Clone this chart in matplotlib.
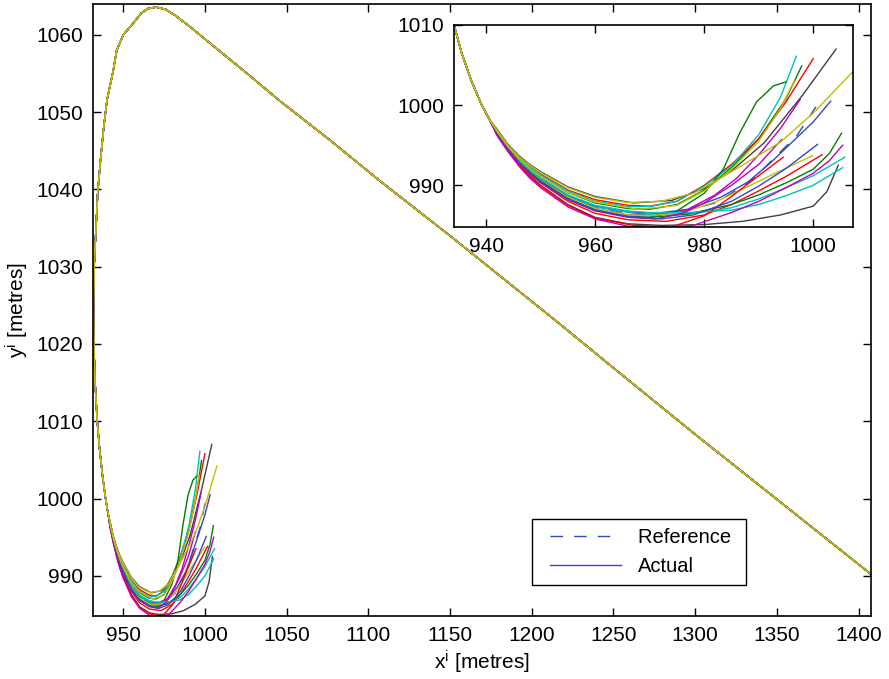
import matplotlib
matplotlib.use('Agg')
import matplotlib.pyplot as plt
from matplotlib.lines import Line2D
from matplotlib.legend_handler import HandlerLine2D

plt.rcParams['font.family'] = ['Liberation Sans', 'DejaVu Sans']
plt.rcParams['mathtext.fontset'] = 'custom'
plt.rcParams['mathtext.rm'] = 'Liberation Sans'
plt.rcParams['mathtext.it'] = 'Liberation Sans:italic'

# shared part of every path: start at the right, over the peak, down the left side
lead_x = [1407, 1350, 1300, 1250, 1216.5, 1150, 1106.5, 1077, 1045, 1027, 1005, 990,
          982, 976, 970, 965, 961, 956.1, 950, 946, 944, 940.1, 938.1, 936.1, 934.4,
          932.2, 931.8, 932.0, 932.8, 934.1, 935.5, 937.3, 939.2, 940.6]
lead_y = [990.3, 999.9, 1008.3, 1016.9, 1022.7, 1034.0, 1041.2, 1046.3, 1051.6, 1054.8,
          1058.6, 1061.2, 1062.5, 1063.3, 1063.6, 1063.4, 1062.8, 1061.5, 1060.0, 1058.0,
          1055.5, 1051.6, 1048.1, 1043.8, 1039.6, 1030.0, 1025.0, 1020.0, 1015.0, 1010.0,
          1006.5, 1003.0, 1000.0, 998.2]

# reference path end
ref_x = [942, 944, 946, 948, 950, 955, 960, 966, 970, 976, 982, 985, 989, 993, 997, 1000.5]
ref_y = [996.6, 994.7, 993.1, 991.8, 990.8, 988.7, 987.3, 986.5, 986.4, 986.7, 987.8,
         989.0, 990.8, 993.5, 996.2, 999.8]

# actual path ends
tails = [
    ([942, 944, 946, 948, 950, 955, 960, 966, 970, 975, 980, 985, 990, 995, 997.9],
     [996.7, 994.8, 993.3, 992.1, 991.1, 989.1, 987.8, 987.1, 987.0, 987.6, 989.4, 992.2, 995.8, 1000.8, 1004.9]),
    ([942, 944, 946, 948, 950, 955, 960, 966, 970, 975, 980, 985, 990, 995, 1000],
     [996.8, 994.9, 993.5, 992.3, 991.4, 989.4, 988.2, 987.5, 987.4, 988.0, 990.0, 992.6, 995.8, 1000.4, 1005.8]),
    ([942, 944, 946, 948, 950, 955, 960, 966, 970, 975, 980, 985, 990, 994, 996.9],
     [996.8, 994.9, 993.5, 992.3, 991.3, 989.3, 988.0, 987.35, 987.35, 988.0, 989.9, 992.4, 996.3, 1001.0, 1006.1]),
    ([942, 944, 946, 948, 950, 955, 960, 967, 974, 980, 985, 991, 998, 1004.2],
     [997.0, 995.1, 993.7, 992.6, 991.7, 989.8, 988.6, 987.8, 988.1, 989.6, 991.8, 995.3, 1001.2, 1007.0]),
    ([942, 944, 946, 948, 950, 955, 960, 966, 971, 977, 983, 988, 992, 996, 1000, 1003.2],
     [996.6, 994.7, 993.1, 991.8, 990.8, 988.7, 987.4, 986.7, 986.5, 987.0, 988.5, 990.4, 992.7, 995.3, 997.9, 1000.5]),
    ([942, 944, 946, 948, 950, 955, 960, 966, 970, 975, 980, 983.5, 986.5, 989.6, 992.7, 995],
     [996.5, 994.6, 992.9, 991.6, 990.6, 988.4, 986.9, 986.1, 986.0, 986.8, 989.0, 992.0, 996.5, 1000.4, 1002.4, 1002.9]),
    ([942, 944, 946, 948, 950, 955, 960, 966, 973, 980, 985, 990, 995, 1001.6],
     [996.4, 994.5, 992.8, 991.4, 990.3, 988.0, 986.5, 985.7, 985.5, 986.3, 987.6, 989.3, 991.1, 993.8]),
    ([942, 944, 946, 948, 950, 955, 960, 968, 975, 980, 985, 990, 995, 1000, 1005.8],
     [996.6, 994.7, 993.0, 991.7, 990.7, 988.6, 987.3, 986.4, 986.4, 986.7, 987.2, 988.3, 989.7, 991.2, 993.5]),
    ([942, 944, 946, 948, 950, 955, 960, 966, 971, 977, 982, 986, 990, 994, 997.6],
     [996.5, 994.6, 993.0, 991.7, 990.6, 988.5, 987.1, 986.3, 986.2, 987.0, 988.8, 990.9, 993.8, 997.1, 1000.7]),
    ([942, 944, 946, 948, 950, 955, 960, 966, 970, 976, 982, 987, 993, 999.9],
     [996.5, 994.6, 993.0, 991.7, 990.6, 988.5, 987.1, 986.3, 986.2, 986.6, 987.9, 989.5, 991.5, 993.7]),
    ([942, 944, 946, 948, 950, 955, 960, 966, 972, 980, 987, 994, 1000, 1002.5, 1004.6],
     [996.3, 994.3, 992.6, 991.2, 990.0, 987.6, 986.0, 985.2, 985.0, 985.1, 985.5, 986.3, 987.4, 989.2, 992.5]),
    ([942, 944, 946, 948, 950, 955, 960, 966, 970, 977, 985, 990, 995, 1000, 1003, 1005.2],
     [996.5, 994.6, 992.9, 991.6, 990.5, 988.3, 986.9, 986.1, 986.0, 986.4, 987.6, 988.8, 990.3, 992.0, 994.0, 996.5]),
    ([942, 944, 946, 948, 950, 955, 960, 967, 974, 980, 985, 990, 994.5],
     [996.3, 994.3, 992.6, 991.1, 989.9, 987.5, 985.9, 985.0, 984.8, 986.2, 988.6, 991.2, 993.5]),
    ([942, 944, 946, 948, 950, 955, 960, 966, 970, 977, 985, 990, 995, 1000, 1005.4],
     [996.6, 994.7, 993.1, 991.9, 990.9, 988.8, 987.5, 986.8, 986.6, 986.6, 986.9, 987.6, 988.7, 990.0, 992.2]),
    ([942, 944, 946, 948, 950, 955, 960, 966, 972, 978, 985, 990, 995, 1000, 1003, 1005.4],
     [996.2, 994.2, 992.4, 990.9, 989.7, 987.3, 985.8, 984.9, 984.6, 985.0, 986.6, 988.0, 989.7, 991.5, 993.1, 995.0]),
    ([942, 944, 946, 948, 950, 955, 960, 966, 971, 976, 980, 985, 990, 994.2],
     [996.4, 994.5, 992.8, 991.5, 990.4, 988.2, 986.8, 986.0, 985.8, 986.5, 987.8, 990.0, 992.6, 995.7]),
    ([942, 944, 946, 948, 950, 955, 960, 966, 972, 978, 985, 990, 995, 1000.8],
     [996.5, 994.6, 992.9, 991.6, 990.5, 988.3, 986.9, 986.1, 985.8, 986.3, 988.0, 989.9, 992.1, 995.1]),
    ([942, 944, 946, 948, 950, 955, 960, 968, 975, 980, 985, 990, 994, 996.5],
     [996.7, 994.8, 993.3, 992.1, 991.1, 989.1, 987.9, 987.0, 987.5, 989.3, 992.0, 995.5, 999.6, 1003.0]),
    ([942, 944, 946, 948, 950, 955, 960, 966, 972, 978, 982, 987, 994, 1000, 1007.3],
     [996.9, 995.0, 993.6, 992.5, 991.6, 989.7, 988.5, 987.85, 988.0, 989.0, 990.5, 992.5, 995.4, 999.0, 1004.2]),
]

blue = '#3346cc'
tail_colors = ['#008000', '#ff0000', '#00bfbf', '#404040', blue, '#008000', '#ff0000',
               '#00bfbf', '#bf00bf', '#bfbf00', '#404040', '#008000', '#ff0000',
               '#00bfbf', '#bf00bf', '#bf00bf', blue, '#bfbf00', '#bfbf00']

fig = plt.figure(figsize=(8.89, 6.79), dpi=100)
ax = fig.add_axes([0.1046, 0.0928, 0.875, 0.9013])
ins = fig.add_axes([0.5107, 0.6657, 0.4488, 0.2975])

dash = (9, 8)


def draw(a):
    a.plot(lead_x + ref_x, lead_y + ref_y, color=blue, lw=1.0, dashes=dash)
    for (tx, ty), c in zip(tails, tail_colors):
        a.plot(lead_x + tx, lead_y + ty, color=c, lw=1.0)


draw(ax)
draw(ins)

for a in (ax, ins):
    a.tick_params(direction='in', top=True, right=True, length=6, width=1.0,
                  labelsize=15, pad=7)
    for s in a.spines.values():
        s.set_linewidth(1.2)

ax.set_xlim(931.5, 1407.5)
ax.set_ylim(984.8, 1064)
ax.set_xticks(range(950, 1401, 50))
ax.set_yticks(range(990, 1061, 10))
ax.set_xlabel('x$^{\\mathrm{i}}$ [metres]', fontsize=15, labelpad=3)
ax.set_ylabel('y$^{\\mathrm{i}}$ [metres]', fontsize=15, labelpad=4)

ins.set_xlim(934.1, 1007.3)
ins.set_ylim(984.8, 1010)
ins.set_xticks([940, 960, 980, 1000])
ins.set_yticks([990, 1000, 1010])

handles = [Line2D([], [], color=blue, lw=1.0, dashes=dash),
           Line2D([], [], color=blue, lw=1.0)]
leg = ax.legend(handles, ['Reference ', 'Actual'], loc='lower left',
                bbox_to_anchor=(0.564, 0.0507), fontsize=14.5, fancybox=False,
                edgecolor='black', framealpha=1, handlelength=4.0,
                handletextpad=0.85, borderpad=0.45, borderaxespad=0,
                handler_map={Line2D: HandlerLine2D(xpad=0.45)})
leg.get_frame().set_linewidth(1.0)

fig.savefig('out.png', dpi=100)
